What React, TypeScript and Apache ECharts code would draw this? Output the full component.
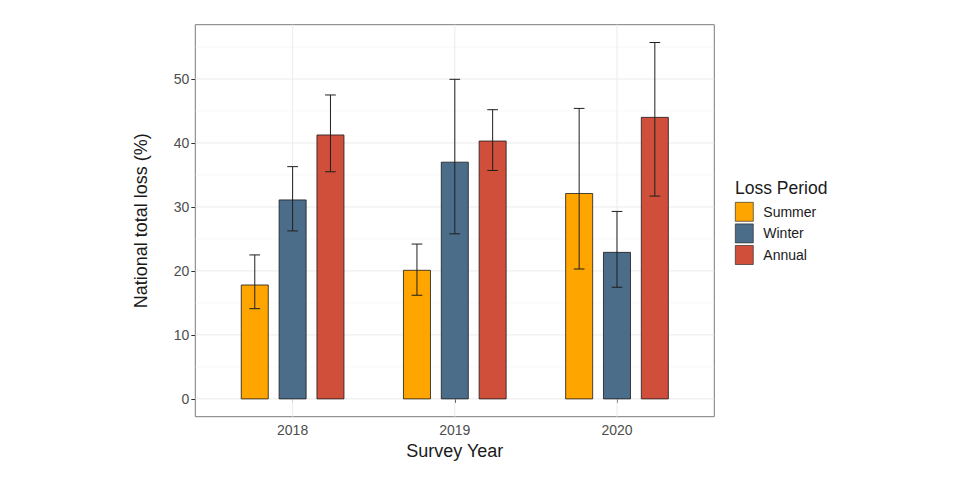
import React, { useEffect, useRef } from "react";
import * as echarts from "echarts";

const years = ["2018", "2019", "2020"];
const periods = ["Summer", "Winter", "Annual"];
const periodColors = ["#FFA500", "#4B6D8A", "#CF4F3B"];

const summerMean = [17.8, 20.1, 32.1];
const summerLow = [14.1, 16.2, 20.3];
const summerHigh = [22.5, 24.2, 45.4];

const winterMean = [31.1, 37.0, 22.9];
const winterLow = [26.25, 25.8, 17.45];
const winterHigh = [36.3, 49.95, 29.3];

const annualMean = [41.25, 40.3, 44.0];
const annualLow = [35.5, 35.7, 31.7];
const annualHigh = [47.5, 45.2, 55.7];

const yMajorTicks = [0, 10, 20, 30, 40, 50];
const yMinorTicks = [5, 15, 25, 35, 45, 55];
const xTickPositions = [1, 2, 3];

const FONT = "'Liberation Sans', Arial, sans-serif";

export default function App() {
  const ref = useRef<HTMLDivElement>(null);

  useEffect(() => {
    document.body.style.margin = "0";
    if (!ref.current) return;
    const chart = echarts.init(ref.current, undefined, { renderer: "svg" });

    const means = [summerMean, winterMean, annualMean];
    const lows = [summerLow, winterLow, annualLow];
    const highs = [summerHigh, winterHigh, annualHigh];

    const allHigh = Math.max(...summerHigh, ...winterHigh, ...annualHigh);
    const yMin = -0.05 * allHigh;
    const yMax = allHigh * 1.05;

    const dodge = 0.7 / 3;
    const barW = 0.5 / 3;
    const capW = 0.066;

    const periodSeries = periods.map((name, k) => ({
      type: "custom",
      name,
      itemStyle: { color: periodColors[k], borderColor: "#1a1a1a", borderWidth: 0.8 },
      encode: { x: 0, y: 1 },
      z: 3,
      data: years.map((_, i) => [i + 1 + (k - 1) * dodge, means[k][i], lows[k][i], highs[k][i]]),
      renderItem: (params: any, api: any) => {
        const x = api.value(0);
        const y = api.value(1);
        const lo = api.value(2);
        const hi = api.value(3);
        const p0 = api.coord([x - barW / 2, 0]);
        const p1 = api.coord([x + barW / 2, y]);
        const e0 = api.coord([x, lo]);
        const e1 = api.coord([x, hi]);
        const c0 = api.coord([x - capW / 2, lo]);
        const c1 = api.coord([x + capW / 2, hi]);
        const lineStyle = { stroke: "#1f1f1f", lineWidth: 1 };
        return {
          type: "group",
          children: [
            {
              type: "rect",
              shape: { x: p0[0], y: p1[1], width: p1[0] - p0[0], height: p0[1] - p1[1] },
              style: { fill: periodColors[k], stroke: "#1a1a1a", lineWidth: 0.8 },
            },
            { type: "line", shape: { x1: e0[0], y1: e0[1], x2: e1[0], y2: e1[1] }, style: lineStyle },
            { type: "line", shape: { x1: c0[0], y1: e0[1], x2: c1[0], y2: e0[1] }, style: lineStyle },
            { type: "line", shape: { x1: c0[0], y1: e1[1], x2: c1[0], y2: e1[1] }, style: lineStyle },
          ],
        };
      },
    }));

    const hGrid = (vals: number[], color: string, width: number, name: string) => ({
      type: "custom",
      name,
      silent: true,
      z: 1,
      encode: { x: 0, y: 1 },
      data: vals.map((v) => [2, v]),
      renderItem: (params: any, api: any) => {
        const c = params.coordSys;
        const y = api.coord([2, api.value(1)])[1];
        return {
          type: "line",
          shape: { x1: c.x, y1: y, x2: c.x + c.width, y2: y },
          style: { stroke: color, lineWidth: width },
        };
      },
    });

    const vGrid = {
      type: "custom",
      name: "vgrid",
      silent: true,
      z: 1,
      encode: { x: 0, y: 1 },
      data: xTickPositions.map((v) => [v, 0]),
      renderItem: (params: any, api: any) => {
        const c = params.coordSys;
        const x = api.coord([api.value(0), 0])[0];
        return {
          type: "line",
          shape: { x1: x, y1: c.y, x2: x, y2: c.y + c.height },
          style: { stroke: "#EBEBEB", lineWidth: 1 },
        };
      },
    };

    chart.setOption({
      animation: false,
      backgroundColor: "#ffffff",
      grid: {
        left: 195.3,
        right: 245.7,
        top: 24.7,
        bottom: 63.3,
        show: true,
        borderColor: "#7a7a7a",
        borderWidth: 1,
        backgroundColor: "transparent",
      },
      xAxis: {
        type: "value",
        min: 0.4,
        max: 3.6,
        name: "Survey Year",
        nameLocation: "middle",
        nameGap: 25,
        nameTextStyle: { fontSize: 18, color: "#1a1a1a", fontFamily: FONT },
        axisLine: { show: false },
        splitLine: { show: false },
        axisTick: { show: true, length: 4, customValues: xTickPositions, lineStyle: { color: "#333333" } },
        axisLabel: {
          customValues: xTickPositions,
          formatter: (v: number) => years[Math.round(v) - 1] ?? "",
          fontSize: 14,
          color: "#4D4D4D",
          fontFamily: FONT,
          margin: 6,
        },
      },
      yAxis: {
        type: "value",
        min: yMin,
        max: yMax,
        name: "National total loss (%)",
        nameLocation: "middle",
        nameGap: 45,
        nameTextStyle: { fontSize: 18, color: "#1a1a1a", fontFamily: FONT },
        axisLine: { show: false },
        splitLine: { show: false },
        axisTick: { show: true, length: 4, customValues: yMajorTicks, lineStyle: { color: "#333333" } },
        axisLabel: {
          customValues: yMajorTicks,
          formatter: (v: number) => String(v),
          fontSize: 14,
          color: "#4D4D4D",
          fontFamily: FONT,
          margin: 6,
        },
      },
      legend: {
        data: periods,
        orient: "vertical",
        left: 735,
        top: 202,
        padding: 0,
        itemWidth: 18,
        itemHeight: 19,
        itemGap: 2,
        icon: "rect",
        itemStyle: { borderColor: "#1a1a1a", borderWidth: 0.6 },
        textStyle: { fontSize: 14, color: "#1a1a1a", fontFamily: FONT, padding: [0, 0, 0, 5] },
        selectedMode: false,
      },
      graphic: [
        {
          type: "text",
          left: 735,
          top: 179,
          style: { text: "Loss Period", fontSize: 17.5, fill: "#1a1a1a", fontFamily: FONT },
        },
      ],
      series: [
        hGrid(yMinorTicks, "#F4F4F4", 0.6, "minor"),
        hGrid(yMajorTicks, "#EBEBEB", 1, "major"),
        vGrid,
        ...periodSeries,
      ],
    });

    return () => chart.dispose();
  }, []);

  return <div ref={ref} style={{ width: 960, height: 480 }} />;
}
